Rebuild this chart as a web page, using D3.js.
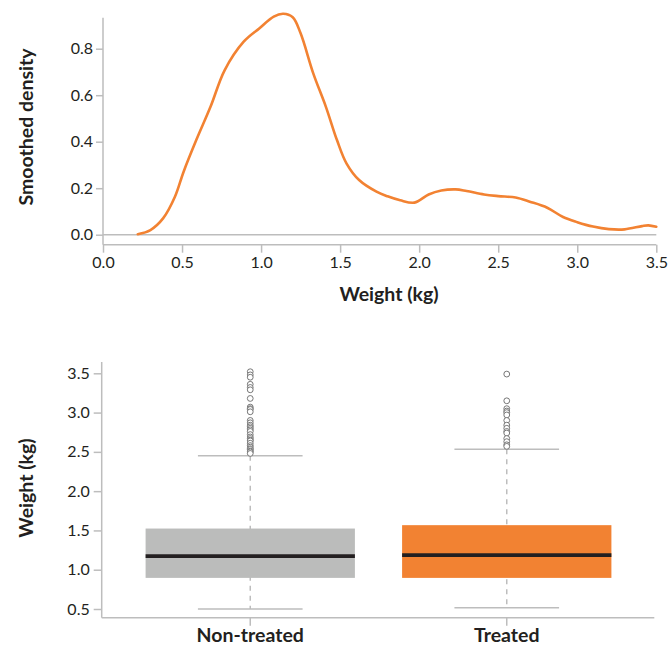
<!DOCTYPE html>
<html><head><meta charset="utf-8">
<script src="https://cdn.jsdelivr.net/npm/d3@7"></script>
<style>
html,body{margin:0;padding:0;background:#fff;}
svg{display:block;}
text{font-family:Lato,"Open Sans",sans-serif;fill:#231f20;}
</style></head>
<body>
<svg id="c" width="670" height="647"></svg>
<script>
// ---- Density data (top panel) ----
const densityWeight = [0.22,0.30,0.38,0.455,0.51,0.59,0.68,0.77,0.89,0.99,1.08,1.14,1.20,1.25,1.33,1.41,1.48,1.54,1.62,1.73,1.80,1.88,1.97,2.06,2.14,2.23,2.30,2.41,2.50,2.61,2.70,2.81,2.91,3.00,3.10,3.20,3.30,3.41,3.45,3.50];
const densityValue  = [0.002,0.02,0.07,0.163,0.271,0.407,0.55,0.708,0.83,0.888,0.938,0.95,0.935,0.866,0.694,0.55,0.407,0.307,0.235,0.185,0.165,0.148,0.138,0.173,0.19,0.195,0.188,0.173,0.166,0.16,0.142,0.116,0.076,0.054,0.035,0.024,0.023,0.037,0.04,0.034];
const densityXTicks = [0,0.5,1,1.5,2,2.5,3,3.5];
const densityYTicks = [0,0.2,0.4,0.6,0.8];

// ---- Box plot data (bottom panel) ----
const groups = ["Non-treated","Treated"];
const q1 = [0.896, 0.896];
const medians = [1.173, 1.185];
const q3 = [1.524, 1.567];
const whiskerLow = [0.50, 0.517];
const whiskerHigh = [2.45, 2.532];
const outliersNonTreated = [3.52,3.48,3.45,3.36,3.32,3.29,3.18,3.07,3.05,3.04,3.01,2.90,2.87,2.84,2.82,2.80,2.78,2.76,2.72,2.69,2.67,2.65,2.64,2.61,2.58,2.56,2.54,2.53,2.51,2.50,2.48];
const outliersTreated = [3.49,3.15,3.05,3.02,3.00,2.97,2.90,2.84,2.80,2.76,2.74,2.67,2.63,2.59,2.57];
const boxYTicks = [0.5,1.0,1.5,2.0,2.5,3.0,3.5];

const svg = d3.select("#c");
const AX = "#bdbdbd", ORANGE = "#f28232", GREY = "#bbbcbb";
const TICK_FS = 16, TITLE_FS = 19.5;

// ================= TOP PANEL =================
const x1 = d3.scaleLinear().domain([0,3.5]).range([103,656.3]);
const y1 = d3.scaleLinear().domain([0,0.8]).range([234.7,48.7]);
const topG = svg.append("g");

topG.append("line").attr("x1",103).attr("x2",103).attr("y1",17.7).attr("y2",244.7).attr("stroke",AX).attr("stroke-width",1.5);
topG.append("line").attr("x1",103).attr("x2",656.3).attr("y1",244.7).attr("y2",244.7).attr("stroke",AX).attr("stroke-width",1.5);
topG.append("line").attr("x1",103).attr("x2",656.3).attr("y1",y1(0)).attr("y2",y1(0)).attr("stroke",AX).attr("stroke-width",1.5);

const yAx1 = topG.append("g").attr("transform","translate(103,0)")
  .call(d3.axisLeft(y1).tickValues(densityYTicks).tickFormat(d3.format(".1f")).tickSize(7).tickPadding(3));
const xAx1 = topG.append("g").attr("transform","translate(0,244.7)")
  .call(d3.axisBottom(x1).tickValues(densityXTicks).tickFormat(d3.format(".1f")).tickSize(8).tickPadding(4));
[yAx1,xAx1].forEach(a=>{
  a.select(".domain").remove();
  a.selectAll(".tick line").attr("stroke",AX).attr("stroke-width",1.5);
  a.selectAll(".tick text").attr("font-size",TICK_FS).attr("fill","#231f20").attr("font-family","Lato, sans-serif");
});

const line = d3.line().x((d,i)=>x1(densityWeight[i])).y((d,i)=>y1(densityValue[i])).curve(d3.curveCatmullRom.alpha(0.5));
topG.append("path").datum(densityValue).attr("d",line).attr("fill","none").attr("stroke",ORANGE).attr("stroke-width",2.6).attr("stroke-linejoin","round").attr("stroke-linecap","round");

topG.append("text").attr("x",389).attr("y",301).attr("text-anchor","middle").attr("font-size",TITLE_FS).attr("font-weight",700).text("Weight (kg)");
topG.append("text").attr("transform","translate(33,127) rotate(-90)").attr("text-anchor","middle").attr("font-size",TITLE_FS).attr("font-weight",700).text("Smoothed density");

// ================= BOTTOM PANEL =================
const xb = d3.scaleBand().domain(groups).range([122,635]).paddingInner(0.184).paddingOuter(0.092);
const yb = d3.scaleLinear().domain([0.5,3.5]).range([609,373.3]);
const bot = svg.append("g");

bot.append("line").attr("x1",101.7).attr("x2",101.7).attr("y1",362).attr("y2",617.7).attr("stroke",AX).attr("stroke-width",1.5);
bot.append("line").attr("x1",101.7).attr("x2",654.3).attr("y1",617.7).attr("y2",617.7).attr("stroke",AX).attr("stroke-width",1.5);

const yAx2 = bot.append("g").attr("transform","translate(101.7,0)")
  .call(d3.axisLeft(yb).tickValues(boxYTicks).tickFormat(d3.format(".1f")).tickSize(8).tickPadding(4));
const xAx2 = bot.append("g").attr("transform","translate(0,617.7)")
  .call(d3.axisBottom(xb).tickSize(8).tickPadding(2));
[yAx2,xAx2].forEach(a=>{
  a.select(".domain").remove();
  a.selectAll(".tick line").attr("stroke",AX).attr("stroke-width",1.5);
  a.selectAll(".tick text").attr("font-size",TICK_FS).attr("fill","#231f20").attr("font-family","Lato, sans-serif");
});
xAx2.selectAll(".tick text").attr("font-size",TITLE_FS).attr("font-weight",700);

groups.forEach((g,i)=>{
  const cx = xb(g) + xb.bandwidth()/2;
  const bw = xb.bandwidth();
  const gg = bot.append("g");
  gg.append("line").attr("x1",cx).attr("x2",cx).attr("y1",yb(whiskerHigh[i])).attr("y2",yb(whiskerLow[i]))
    .attr("stroke",AX).attr("stroke-width",1.5).attr("stroke-dasharray","5,5");
  [whiskerLow[i],whiskerHigh[i]].forEach(v=>{
    gg.append("line").attr("x1",cx-bw/4).attr("x2",cx+bw/4).attr("y1",yb(v)).attr("y2",yb(v)).attr("stroke",AX).attr("stroke-width",1.5);
  });
  gg.append("rect").attr("x",xb(g)).attr("width",bw).attr("y",yb(q3[i])).attr("height",yb(q1[i])-yb(q3[i]))
    .attr("fill", i===0?GREY:ORANGE);
  gg.append("line").attr("x1",xb(g)).attr("x2",xb(g)+bw).attr("y1",yb(medians[i])).attr("y2",yb(medians[i]))
    .attr("stroke","#231f20").attr("stroke-width",3.8);
  const outs = i===0?outliersNonTreated:outliersTreated;
  gg.selectAll("circle").data(outs).enter().append("circle")
    .attr("cx",cx).attr("cy",d=>yb(d)).attr("r",2.9)
    .attr("fill","#fff").attr("stroke","#777").attr("stroke-width",1);
});

bot.append("text").attr("transform","translate(33,488) rotate(-90)").attr("text-anchor","middle").attr("font-size",TITLE_FS).attr("font-weight",700).text("Weight (kg)");
</script>
</body></html>
